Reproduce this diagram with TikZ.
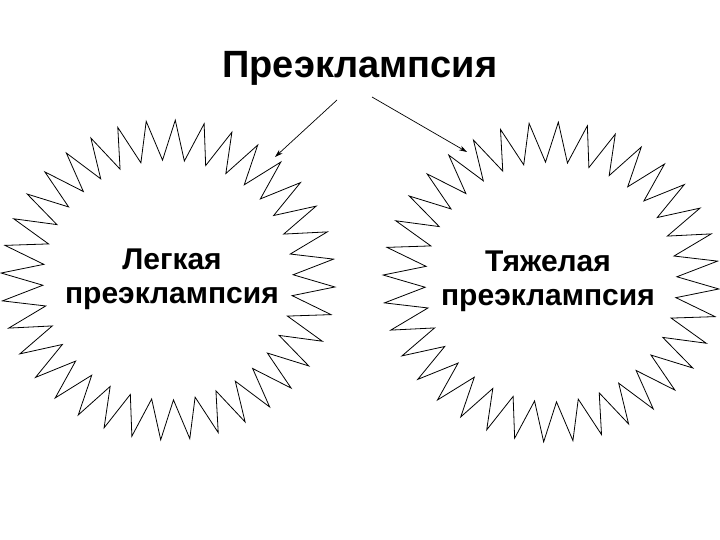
\documentclass[tikz,border=0pt]{standalone}
\usepackage{fontspec}
\setmainfont{Liberation Sans}
\usetikzlibrary{arrows.meta}
\begin{document}
\begin{tikzpicture}[x=1pt,y=-1pt,
  burst/.style={draw=black,line width=0.8pt,fill=white,line join=miter},
  lbl/.style={font=\bfseries\fontsize{30}{34}\selectfont,align=center},
  arr/.style={-{Stealth[length=8pt,width=5pt]},line width=0.7pt}]
\useasboundingbox (0,0) rectangle (720,540);
\newcommand{\myburst}[3]{%
  \draw[burst] plot[samples at={0,...,71},variable=\k]
   ({#1+(mod(\k,2)==0 ? #3 : 0.75*#3)*cos(\k*5+2.5)},{#2+(mod(\k,2)==0 ? 160 : 0.75*160)*sin(\k*5+2.5)}) -- cycle;}
\myburst{168}{280}{167}
\myburst{551}{282}{168}
\node[lbl,font=\bfseries\fontsize{38}{42}\selectfont] (top) at (360,68) {Преэклампсия};
\node[lbl] (l) at (172,279) {Легкая\\преэклампсия};
\node[lbl] (r) at (548,281) {Тяжелая\\преэклампсия};
\coordinate (a1) at (337,100); \coordinate (b1) at (275,157);
\coordinate (a2) at (372,97); \coordinate (b2) at (467,152);
\draw[arr] (a1) -- (b1);
\draw[arr] (a2) -- (b2);
\end{tikzpicture}
\end{document}
